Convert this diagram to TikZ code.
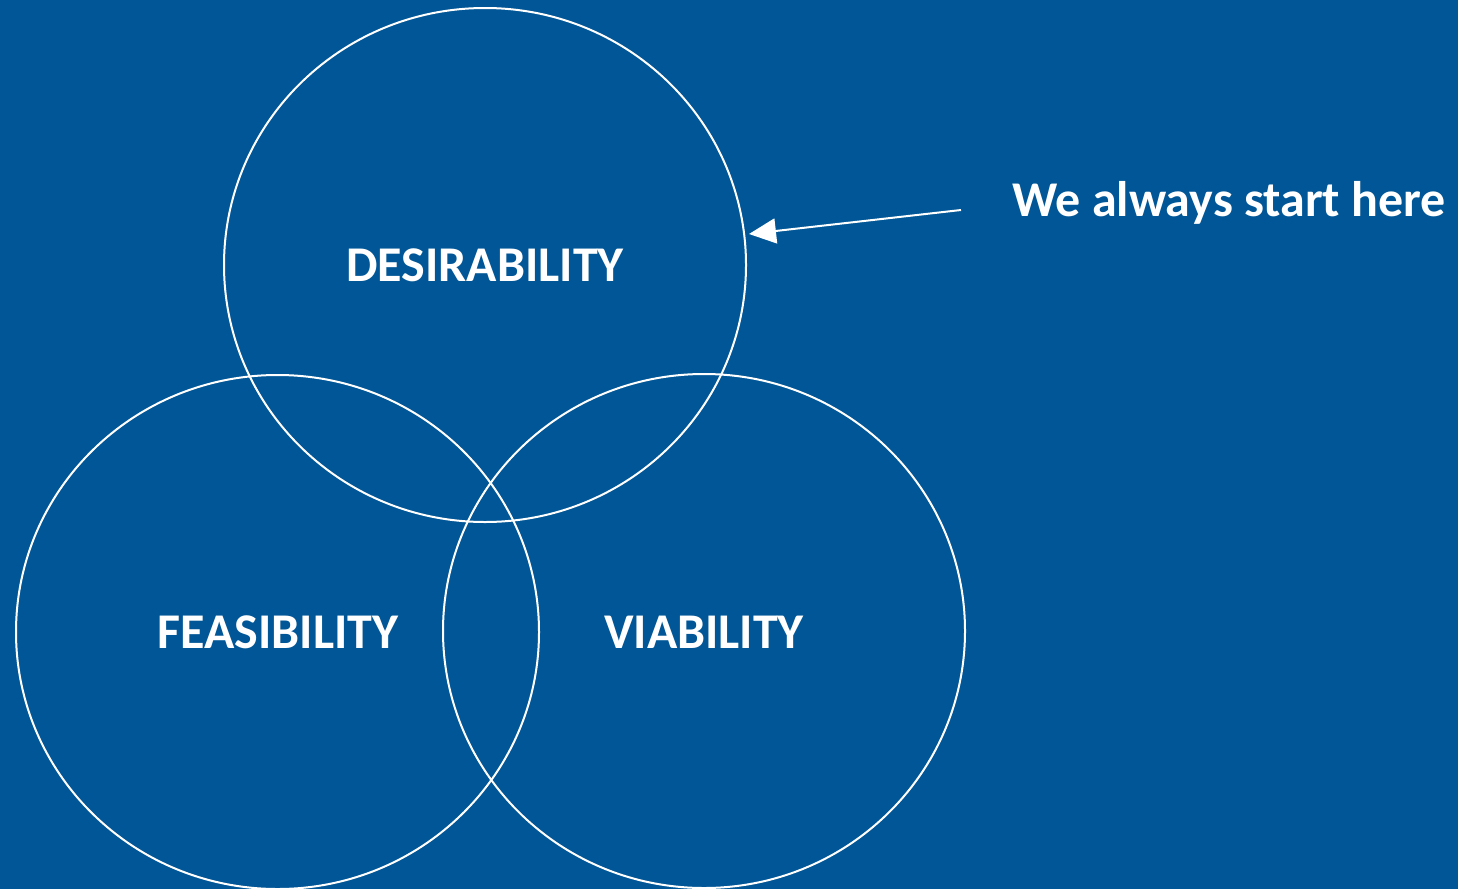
\documentclass[tikz,border=0pt]{standalone}
\usepackage{fontspec}
\setmainfont{Carlito}
\usetikzlibrary{arrows.meta}
\definecolor{bgblue}{RGB}{0,86,150}
\begin{document}
\begin{tikzpicture}[x=1pt,y=-1pt,
  ring/.style={draw=white,line width=2pt},
  label/.style={text=white,font=\fontsize{50}{56}\selectfont\bfseries,inner sep=0pt,anchor=center}]
\fill[bgblue] (0,0) rectangle (1458,889);
\useasboundingbox (0,0) rectangle (1458,889);
\draw[ring] (485,265) ellipse [x radius=261,y radius=257];
\draw[ring] (277.5,632) ellipse [x radius=261.5,y radius=257];
\draw[ring] (704,631) ellipse [x radius=261,y radius=257];
\node[label] (des) at (485,265) {DESIRABILITY};
\node[label] (fea) at (278,632) {FEASIBILITY};
\node[label] (via) at (704,632) {VIABILITY};
\node[label] (note) at (1229,203) {We always start here};
\coordinate (tail) at (961,210);
\coordinate (tip) at (749,234);
\draw[white,line width=2pt,-{Triangle[length=27pt,width=25pt]}] (tail) -- (tip);
\end{tikzpicture}
\end{document}
